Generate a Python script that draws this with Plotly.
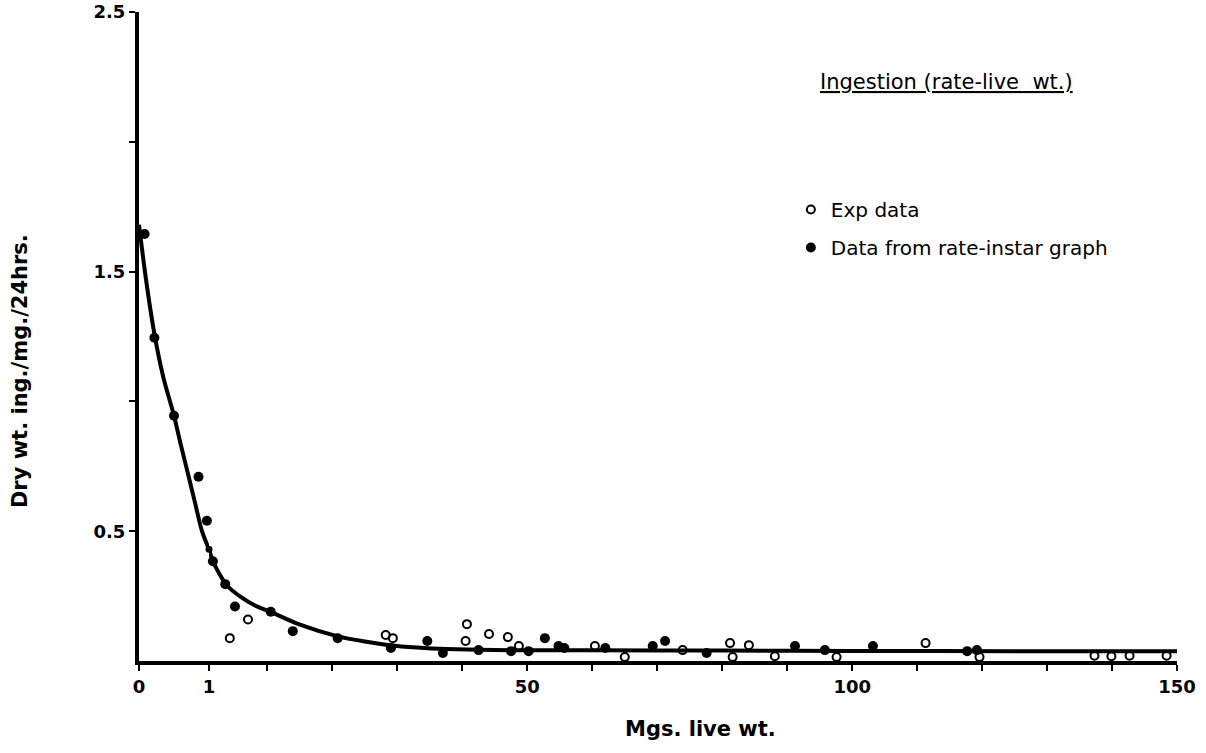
import plotly.graph_objects as go

# x axis is broken: 0-1 drawn wide, then 1-150 linear
BREAK = 1.0

# fitted curve
curve_x = [0, 0.1, 0.22, 0.35, 0.5, 0.6, 0.71, 0.8, 0.9, 1.0,
           1.6, 2.5, 3.8, 6, 8, 10.4, 15, 20.7, 25, 28.8, 33, 37.5, 45, 60, 80, 100, 125, 150]
curve_y = [1.68, 1.47, 1.26, 1.09, 0.945, 0.83, 0.71, 0.61, 0.50, 0.43,
           0.385, 0.34, 0.29, 0.245, 0.215, 0.19, 0.14, 0.096, 0.075, 0.061, 0.052, 0.046,
           0.042, 0.041, 0.040, 0.039, 0.038, 0.038]

# open circles - experimental data
exp_x = [4.2, 7.0, 28.2, 29.3, 40.5, 40.7, 44.1, 47.0, 48.7, 60.4, 73.9, 81.2, 84.1, 111.3,
         65.0, 81.6, 88.1, 97.6, 119.6, 137.3, 139.9, 142.7, 148.4]
exp_y = [0.088, 0.16, 0.10, 0.088, 0.077, 0.142, 0.104, 0.092, 0.058, 0.058, 0.042, 0.069, 0.061, 0.069,
         0.015, 0.015, 0.018, 0.015, 0.015, 0.02, 0.018, 0.02, 0.02]

# filled circles - data from rate-instar graph
graph_x = [0.08, 0.22, 0.5, 0.85, 0.97, 1.6, 3.5, 5.0, 10.5, 13.9,
           20.8, 29.0, 34.6, 37.0, 42.5, 47.5, 50.2, 52.7, 54.8, 55.7, 62.0,
           69.3, 71.2, 77.6, 91.2, 95.8, 103.2, 117.7, 119.2]
graph_y = [1.645, 1.245, 0.945, 0.71, 0.54, 0.384, 0.296, 0.21, 0.19, 0.115,
           0.088, 0.05, 0.077, 0.031, 0.042, 0.038, 0.038, 0.088, 0.058, 0.05, 0.05,
           0.058, 0.077, 0.031, 0.058, 0.042, 0.058, 0.038, 0.042]

y_ticks = [0.5, 1.0, 1.5, 2.0, 2.5]
y_labels = ["0.5", "", "1.5", "", "2.5"]
x_ticks_b = [10, 20, 30, 40, 50, 60, 70, 80, 90, 100, 110, 120, 130, 140, 150]
x_labels_b = ["", "", "", "", "50", "", "", "", "", "100", "", "", "", "", "150"]


def split(xs, ys):
    a = [(x, y) for x, y in zip(xs, ys) if x <= BREAK]
    b = [(x, y) for x, y in zip(xs, ys) if x >= BREAK]
    return ([p[0] for p in a], [p[1] for p in a]), ([p[0] for p in b], [p[1] for p in b])


FONT = "DejaVu Sans"
fig = go.Figure()

(ca, cb) = split(curve_x, curve_y)
for (xs, ys), ax in ((ca, "x"), (cb, "x2")):
    fig.add_trace(go.Scatter(x=xs, y=ys, xaxis=ax, yaxis="y", mode="lines",
                             line=dict(color="black", width=4, shape="spline", smoothing=0.8),
                             showlegend=False, hoverinfo="skip"))

# small dot to close the seam where the two halves of the curve meet
j = curve_x.index(BREAK)
fig.add_trace(go.Scatter(x=[curve_x[j]], y=[curve_y[j]], xaxis="x2", yaxis="y", mode="markers",
                         marker=dict(size=7, color="black"), showlegend=False,
                         hoverinfo="skip", cliponaxis=False))

(ea, eb) = split(exp_x, exp_y)
for i, ((xs, ys), ax) in enumerate(((ea, "x"), (eb, "x2"))):
    fig.add_trace(go.Scatter(x=xs, y=ys, xaxis=ax, yaxis="y", mode="markers",
                             name="Exp data", legendgroup="exp", showlegend=(i == 1),
                             cliponaxis=False,
                             marker=dict(symbol="circle-open", size=8, color="black",
                                         line=dict(width=2, color="black"))))

(ga, gb) = split(graph_x, graph_y)
for i, ((xs, ys), ax) in enumerate(((ga, "x"), (gb, "x2"))):
    fig.add_trace(go.Scatter(x=xs, y=ys, xaxis=ax, yaxis="y", mode="markers",
                             name="Data from rate-instar graph", legendgroup="graph",
                             showlegend=(i == 0), cliponaxis=False,
                             marker=dict(symbol="circle", size=10, color="black")))

split_at = 70 / 1038
axis_common = dict(showline=True, linewidth=4, linecolor="black", showgrid=False,
                   zeroline=False, ticks="outside", ticklen=6, tickwidth=2, tickcolor="black",
                   automargin=False,
                   tickfont=dict(family="DejaVu Sans, sans-serif", size=18, color="black",
                                 weight="bold"))

fig.update_layout(
    width=1206, height=753,
    margin=dict(l=139, r=29, t=12, b=92),
    paper_bgcolor="white", plot_bgcolor="white",
    font=dict(family=FONT, color="black"),
    xaxis=dict(domain=[0, split_at], range=[0, BREAK], tickmode="array",
               tickvals=[0, 1], ticktext=["0", "1"], anchor="y", **axis_common),
    xaxis2=dict(domain=[split_at, 1], range=[BREAK, 150], tickmode="array",
                tickvals=x_ticks_b, ticktext=x_labels_b, anchor="y", **axis_common),
    yaxis=dict(range=[0, 2.5], tickmode="array", tickvals=y_ticks, ticktext=y_labels,
               **axis_common),
    showlegend=True,
    legend=dict(x=0.628, y=0.7257, xanchor="left", yanchor="top",
                font=dict(family=FONT, size=20, color="black"),
                traceorder="grouped", tracegroupgap=9, bgcolor="rgba(0,0,0,0)"),
)

fig.add_annotation(text="<u>Ingestion (rate-live  wt.)</u>", xref="paper", yref="paper",
                   x=0.778, y=0.892, xanchor="center", yanchor="middle", showarrow=False,
                   font=dict(family=FONT, size=21, color="black"))
fig.add_annotation(text="<b>Mgs. live wt.</b>", xref="paper", yref="paper",
                   x=0.5405, y=-0.1048, xanchor="center", yanchor="middle", showarrow=False,
                   font=dict(family=FONT, size=21, color="black"))
fig.add_annotation(text="<b>Dry wt. ing./mg./24hrs.</b>", xref="paper", yref="paper",
                   x=-0.1146, y=0.4468, xanchor="center", yanchor="middle",
                   textangle=-90, showarrow=False,
                   font=dict(family=FONT, size=21, color="black"))

# drop the browser's default body margin so the figure fills the window exactly
fig.write_html("out.html", config={"displayModeBar": False},
               post_script="document.body.style.margin='0';")
